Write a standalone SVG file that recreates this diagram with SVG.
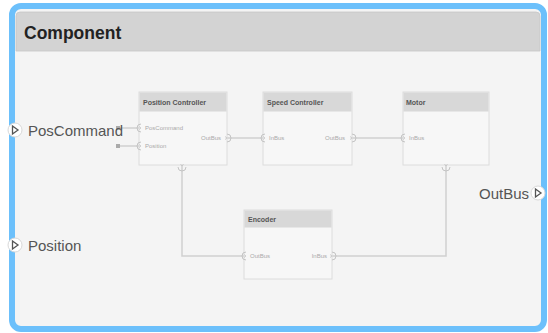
<svg xmlns="http://www.w3.org/2000/svg" width="548" height="333" viewBox="0 0 548 333">
<style>
.blk{fill:#f7f7f7;stroke:#dcdcdc;stroke-width:1}
.hdr{fill:#d8d8d8}
.ttl{font-family:"Liberation Sans",Arial,sans-serif;font-size:7px;font-weight:bold;fill:#555}
.pl{font-family:"Liberation Sans",Arial,sans-serif;font-size:6px;fill:#aaa}
.cn{fill:none;stroke:#d0d0d0;stroke-width:1.5}
.pt{fill:#f7f7f7;stroke:#c8c8c8;stroke-width:1}
.ext{font-family:"Liberation Sans",Arial,sans-serif;font-size:15px;fill:#555}
</style>
<defs>
<g id="pin"><path d="M2,-4 A4,4 0 0 0 2,4" fill="none" stroke="#c4c4c4" stroke-width="1"/><path d="M0,-1.5 L2,0 L0,1.5" fill="none" stroke="#c4c4c4" stroke-width="0.8"/></g>
<g id="pinR"><path d="M-2,-4 A4,4 0 0 1 -2,4" fill="none" stroke="#c4c4c4" stroke-width="1"/><path d="M-4,-1.5 L-2,0 L-4,1.5" fill="none" stroke="#c4c4c4" stroke-width="0.8"/></g>
<g id="pinB"><path d="M-4,2 A4,4 0 0 0 4,2" fill="none" stroke="#c4c4c4" stroke-width="1"/><path d="M-1.5,-1 L0,1 L1.5,-1" fill="none" stroke="#c4c4c4" stroke-width="0.8"/></g>
<g id="extp"><circle r="7" fill="#ffffff" stroke="#d8d8d8" stroke-width="1"/><path d="M-2.5,-4 L3,0 L-2.5,4 Z" fill="none" stroke="#555" stroke-width="1.3"/></g>
</defs>
<g id="frame">
<rect x="12" y="6" width="532" height="323" rx="9" fill="#f4f4f4" stroke="#6cc0fb" stroke-width="6"/>
<path d="M16,51 L16,16 Q16,12 20,12 L536,12 Q540,12 540,16 L540,51 Z" fill="#d3d3d3" stroke="#c6c6c6" stroke-width="0.8"/>
<text x="24" y="39" font-family="'Liberation Sans',Arial,sans-serif" font-size="17.5" font-weight="bold" fill="#222">Component</text>
</g>
<g id="connectors">
<path class="cn" d="M118,128 L139,128"/>
<path class="cn" d="M118,146 L139,146"/>
<rect x="116" y="126" width="4" height="4" fill="#aaa"/>
<rect x="116" y="144" width="4" height="4" fill="#aaa"/>
<path class="cn" d="M227,138 L263,138"/>
<path class="cn" d="M352,138 L403,138"/>
<path class="cn" d="M182,165 L182,256 L244,256"/>
<path class="cn" d="M332,256 L446,256 L446,165"/>
</g>
<g id="position-controller">
<rect class="blk" x="139" y="92" width="88" height="73"/>
<rect class="hdr" x="139.5" y="92.5" width="87" height="19"/>
<text class="ttl" x="143" y="105">Position Controller</text>
<text class="pl" x="145" y="130">PosCommand</text>
<text class="pl" x="145" y="148">Position</text>
<text class="pl" x="221" y="140" text-anchor="end">OutBus</text>
<use href="#pin" x="139" y="128"/>
<use href="#pin" x="139" y="146"/>
<use href="#pinR" x="229" y="138"/>
<use href="#pinB" x="182" y="165"/>
</g>
<g id="speed-controller">
<rect class="blk" x="263" y="92" width="89" height="73"/>
<rect class="hdr" x="263.5" y="92.5" width="88" height="19"/>
<text class="ttl" x="267" y="105">Speed Controller</text>
<text class="pl" x="269" y="140">InBus</text>
<text class="pl" x="345" y="140" text-anchor="end">OutBus</text>
<use href="#pin" x="263" y="138"/>
<use href="#pinR" x="354" y="138"/>
</g>
<g id="motor">
<rect class="blk" x="403" y="92" width="86" height="73"/>
<rect class="hdr" x="403.5" y="92.5" width="85" height="19"/>
<text class="ttl" x="406" y="105">Motor</text>
<text class="pl" x="409" y="140">InBus</text>
<use href="#pin" x="403" y="138"/>
<use href="#pinB" x="446" y="165"/>
</g>
<g id="encoder">
<rect class="blk" x="244" y="210" width="88" height="69"/>
<rect class="hdr" x="244.5" y="210.5" width="87" height="17"/>
<text class="ttl" x="248" y="222">Encoder</text>
<text class="pl" x="250" y="258">OutBus</text>
<text class="pl" x="327" y="258" text-anchor="end">InBus</text>
<use href="#pin" x="244" y="256"/>
<use href="#pinR" x="334" y="256"/>
</g>
<g id="port-poscommand">
<use href="#extp" x="15" y="130"/>
<text class="ext" x="28" y="136">PosCommand</text>
</g>
<g id="port-position">
<use href="#extp" x="15" y="245"/>
<text class="ext" x="28" y="251">Position</text>
</g>
<g id="port-outbus">
<use href="#extp" x="538" y="193"/>
<text class="ext" x="529" y="199" text-anchor="end">OutBus</text>
</g>
</svg>
